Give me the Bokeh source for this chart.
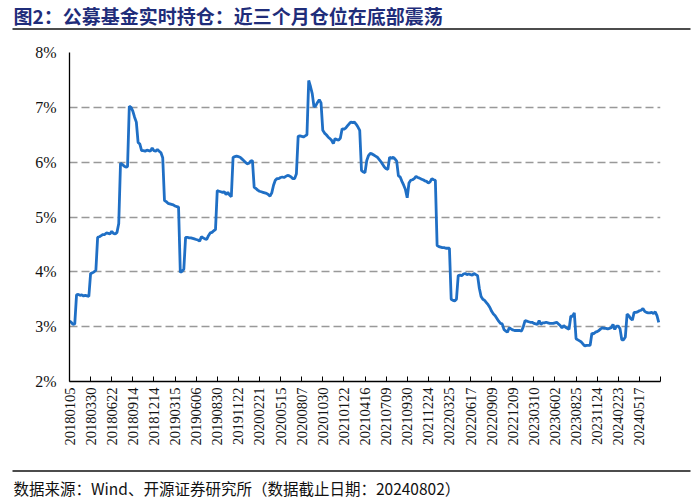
import math
from bokeh.plotting import figure
from bokeh.layouts import column, row
from bokeh.models import Range1d, FixedTicker
from bokeh.core.properties import value
from bokeh.embed import file_html
from bokeh.resources import INLINE

# ---- data ----
tick_labels = ["20180105", "20180330", "20180622", "20180914", "20181214", "20190315",
               "20190606", "20190830", "20191122", "20200221", "20200515", "20200807",
               "20201030", "20210122", "20210416", "20210709", "20210930", "20211224",
               "20220325", "20220617", "20220909", "20221209", "20230310", "20230602",
               "20230825", "20231124", "20240223", "20240517"]
label_step = 12  # weekly points between labelled ticks

# weekly fund position (%), one row per labelled period
position = [
    3.10, 3.08, 3.04, 3.05, 3.58, 3.59, 3.57, 3.58, 3.56, 3.57, 3.56, 3.55,
    3.97, 3.98, 4.00, 4.03, 4.63, 4.64, 4.66, 4.68, 4.68, 4.71, 4.70, 4.69,
    4.74, 4.70, 4.69, 4.72, 4.88, 5.98, 5.96, 5.93, 5.91, 5.92, 7.02, 7.00,
    6.93, 6.82, 6.73, 6.36, 6.33, 6.21, 6.21, 6.20, 6.22, 6.21, 6.20, 6.26,
    6.21, 6.20, 6.23, 6.20, 6.17, 6.08, 5.30, 5.28, 5.25, 5.24, 5.23, 5.22,
    5.20, 5.19, 5.18, 3.99, 4.01, 4.05, 4.63, 4.63, 4.62, 4.62, 4.61, 4.60,
    4.59, 4.58, 4.56, 4.64, 4.62, 4.60, 4.59, 4.66, 4.71, 4.72, 4.75, 4.77,
    5.48, 5.47, 5.46, 5.45, 5.46, 5.41, 5.45, 5.40, 5.37, 6.09, 6.10, 6.11,
    6.10, 6.09, 6.06, 6.03, 6.00, 5.97, 5.98, 6.02, 6.03, 5.54, 5.52, 5.49,
    5.47, 5.46, 5.45, 5.44, 5.43, 5.41, 5.38, 5.44, 5.58, 5.67, 5.70, 5.70,
    5.72, 5.73, 5.72, 5.74, 5.76, 5.75, 5.73, 5.70, 5.70, 5.79, 6.47, 6.48,
    6.47, 6.46, 6.48, 6.50, 7.49, 7.38, 7.25, 7.01, 7.03, 7.09, 7.14, 7.08,
    6.58, 6.53, 6.50, 6.46, 6.43, 6.40, 6.34, 6.43, 6.41, 6.40, 6.44, 6.61,
    6.60, 6.62, 6.66, 6.70, 6.73, 6.72, 6.73, 6.69, 6.64, 6.58, 5.85, 5.82,
    5.81, 6.03, 6.12, 6.16, 6.15, 6.13, 6.11, 6.09, 6.05, 6.01, 5.96, 5.91,
    5.88, 5.87, 6.09, 6.07, 6.09, 6.06, 6.02, 5.75, 5.73, 5.65, 5.58, 5.50,
    5.35, 5.62, 5.67, 5.68, 5.70, 5.74, 5.72, 5.71, 5.69, 5.68, 5.66, 5.65,
    5.62, 5.64, 5.70, 5.68, 5.67, 4.48, 4.46, 4.45, 4.44, 4.44, 4.43, 4.43,
    4.43, 3.50, 3.48, 3.47, 3.50, 3.93, 3.94, 3.93, 3.96, 3.97, 3.95, 3.96,
    3.95, 3.94, 3.97, 3.95, 3.93, 3.70, 3.55, 3.50, 3.48, 3.44, 3.40, 3.35,
    3.28, 3.23, 3.20, 3.15, 3.10, 3.06, 3.05, 2.95, 2.92, 2.90, 2.98, 2.96,
    2.94, 2.93, 2.93, 2.93, 2.93, 2.92, 3.00, 3.11, 3.10, 3.09, 3.08, 3.08,
    3.06, 3.05, 3.04, 3.11, 3.04, 3.07, 3.07, 3.08, 3.07, 3.06, 3.06, 3.06,
    3.07, 3.08, 3.05, 3.02, 2.98, 3.02, 2.99, 2.97, 2.95, 3.19, 3.19, 3.25,
    2.78, 2.76, 2.74, 2.72, 2.68, 2.65, 2.66, 2.66, 2.66, 2.88, 2.87, 2.90,
    2.91, 2.93, 2.96, 2.98, 2.97, 2.97, 2.96, 2.97, 2.98, 3.04, 2.95, 3.01,
    3.01, 2.96, 2.76, 2.76, 2.81, 3.23, 3.20, 3.15, 3.12, 3.26, 3.26, 3.27,
    3.29, 3.30, 3.33, 3.28, 3.26, 3.25, 3.25, 3.26, 3.24, 3.27, 3.20, 3.08,
]

y_ticks = [2, 3, 4, 5, 6, 7, 8]
y_tick_labels = ["2%", "3%", "4%", "5%", "6%", "7%", "8%"]

title_text = "图2：公募基金实时持仓：近三个月仓位在底部震荡"
source_text = "数据来源：Wind、开源证券研究所（数据截止日期：20240802）"

W = 700
HEAD_H = 36
MAIN_H = 426
FOOT_H = 37


def blank_panel(h):
    f = figure(width=W, height=h, output_backend="svg", toolbar_location=None,
               x_range=Range1d(0, W), y_range=Range1d(h, 0),
               x_axis_location=None, y_axis_location=None,
               min_border=0, min_border_left=0, min_border_right=0,
               min_border_top=0, min_border_bottom=0)
    f.outline_line_color = None
    f.xgrid.visible = False
    f.ygrid.visible = False
    f.background_fill_color = "white"
    f.border_fill_color = "white"
    return f


# ---- header ----
head = blank_panel(HEAD_H)
head.text(x=[13], y=[15], text=[title_text], text_font=value("Noto Sans CJK SC"),
          text_font_style="bold", text_font_size="19px", text_color="#1F2D7A",
          text_baseline="middle", text_align="left")
head.segment(x0=[12], y0=[28.5], x1=[690], y1=[28.5], line_color="#111111", line_width=1.6)

# ---- main chart ----
x = list(range(len(position)))
n_slots = len(tick_labels) * label_step

p = figure(width=W, height=MAIN_H, output_backend="svg", toolbar_location=None,
           x_range=Range1d(0, n_slots), y_range=Range1d(y_ticks[0], y_ticks[-1]),
           min_border_left=69, min_border_right=40, min_border_top=16,
           min_border_bottom=MAIN_H - 345)
p.outline_line_color = None
p.background_fill_color = "white"
p.border_fill_color = "white"

p.line(x, position, line_color="#1F6FC5", line_width=2.8)

xt = [i * label_step for i in range(len(tick_labels) + 1)]
p.xaxis.ticker = FixedTicker(ticks=xt)
overrides = {i * label_step: lab for i, lab in enumerate(tick_labels)}
overrides[n_slots] = ""
p.xaxis.major_label_overrides = overrides
p.xaxis.major_label_orientation = math.pi / 2
p.xaxis.major_label_text_font = "Liberation Serif"
p.xaxis.major_label_text_font_size = "14.5px"
p.xaxis.major_label_text_color = "#111111"
p.xaxis.major_label_standoff = 6
p.xaxis.major_tick_in = 5
p.xaxis.major_tick_out = 0
p.xaxis.major_tick_line_color = "black"
p.xaxis.minor_tick_line_color = None
p.xaxis.axis_line_color = "black"
p.xaxis.axis_line_width = 1.3

p.yaxis.ticker = FixedTicker(ticks=y_ticks)
p.yaxis.major_label_overrides = {t: lab for t, lab in zip(y_ticks, y_tick_labels)}
p.yaxis.major_label_text_font = "Liberation Serif"
p.yaxis.major_label_text_font_size = "16px"
p.yaxis.major_label_text_color = "#111111"
p.yaxis.major_label_standoff = 13
p.yaxis.major_tick_in = 0
p.yaxis.major_tick_out = 0
p.yaxis.major_tick_line_color = None
p.yaxis.minor_tick_line_color = None
p.yaxis.axis_line_color = "black"
p.yaxis.axis_line_width = 1.3

p.xgrid.visible = False
p.ygrid.grid_line_color = "#999999"
p.ygrid.grid_line_width = 1.4
p.ygrid.grid_line_dash = "8 4"

# ---- footer ----
foot = blank_panel(FOOT_H)
foot.segment(x0=[12], y0=[8.5], x1=[690], y1=[8.5], line_color="#111111", line_width=1.6)
foot.text(x=[13], y=[25], text=[source_text], text_font=value("Noto Sans CJK SC"),
          text_font_size="15.5px", text_color="#111111",
          text_baseline="middle", text_align="left")

# wrap header/footer separately so their frames are not aligned with the chart frame
layout = column(row(head), p, row(foot), spacing=0)
open("out.html", "w").write(file_html(layout, INLINE))
